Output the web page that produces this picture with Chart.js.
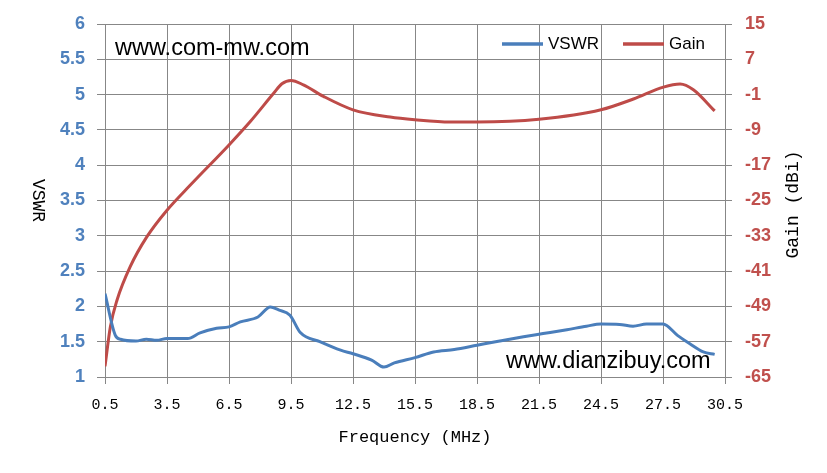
<!DOCTYPE html>
<html>
<head>
<meta charset="utf-8">
<script src="https://cdn.jsdelivr.net/npm/chart.js@4/dist/chart.umd.min.js"></script>
<style>
  body { margin: 0; background: #fff; }
  canvas { display: block; }
</style>
</head>
<body>
<canvas id="chart" width="827" height="473"></canvas>
<script>
// VSWR readings (frequency in MHz)
const vswrFreq = [0.5, 1.0, 1.25, 2.0, 2.5, 3.0, 3.5, 4.5, 5.1, 5.9, 6.5, 7.05, 7.9, 8.5, 8.9, 9.45, 9.95, 10.9, 11.9, 12.5, 13.4, 14.0, 14.5, 15.5, 16.4, 17.4, 18.5, 19.6, 20.75, 21.7, 22.85, 23.8, 24.5, 25.4, 26.05, 26.7, 27.5, 28.2, 28.8, 29.45, 30.0];
const vswrVals = [2.18, 1.59, 1.535, 1.51, 1.535, 1.52, 1.545, 1.545, 1.625, 1.69, 1.71, 1.78, 1.85, 1.99, 1.95, 1.875, 1.63, 1.50, 1.38, 1.33, 1.24, 1.14, 1.2, 1.275, 1.355, 1.39, 1.45, 1.51, 1.57, 1.615, 1.67, 1.72, 1.75, 1.745, 1.72, 1.75, 1.75, 1.59, 1.47, 1.355, 1.32];

// Gain readings (dBi)
const gainFreq = [0.5, 0.76, 1.08, 1.72, 2.53, 3.5, 4.63, 6.5, 7.53, 8.66, 9.06, 9.5, 10.1, 11.07, 12.5, 14.3, 15.5, 17.2, 18.5, 21.5, 24.5, 26.07, 27.52, 28.33, 28.97, 30.0];
const gainVals = [-62.6, -53.6, -47.6, -40.0, -33.2, -27.2, -21.5, -12.4, -7.1, -0.7, 1.45, 2.2, 1.2, -1.4, -4.45, -6.1, -6.7, -7.2, -7.2, -6.6, -4.45, -2.0, 0.7, 1.4, 0.1, -4.7];

const seriesNames = ['VSWR', 'Gain'];
const watermarks = ['www.com-mw.com', 'www.dianzibuy.com'];

const blue = '#4A7EBB';
const red = '#BE4B48';
const gridColor = '#878787';

function pairs(xs, ys) {
  return xs.map((x, i) => ({ x: x, y: ys[i] }));
}

// titles, legend and the two web addresses
const overlay = {
  id: 'overlay',
  afterDraw(chart) {
    const ctx = chart.ctx;
    const area = chart.chartArea;
    const midY = (area.top + area.bottom) / 2;
    ctx.save();
    ctx.fillStyle = '#000';
    ctx.textAlign = 'center';
    ctx.textBaseline = 'middle';
    ctx.font = '18px "Liberation Mono"';

    ctx.save();
    ctx.translate(38, midY);
    ctx.rotate(Math.PI / 2);
    ctx.fillText('VSWR', 0, 0);
    ctx.restore();

    ctx.save();
    ctx.translate(793, midY + 4);
    ctx.rotate(-Math.PI / 2);
    ctx.fillText('Gain (dBi)', 0, 0);
    ctx.restore();

    // legend
    ctx.font = '17px "Liberation Sans"';
    ctx.textAlign = 'left';
    ctx.lineWidth = 3.5;
    const legendX = [502, 623];
    chart.data.datasets.forEach((ds, i) => {
      const x = legendX[i];
      ctx.strokeStyle = ds.borderColor;
      ctx.beginPath();
      ctx.moveTo(x, 44);
      ctx.lineTo(x + 41, 44);
      ctx.stroke();
      ctx.fillText(ds.label, x + 46, 44);
    });

    ctx.font = '23.5px "Liberation Sans"';
    ctx.textBaseline = 'alphabetic';
    ctx.fillText(watermarks[0], 115, 55);
    ctx.fillText(watermarks[1], 506, 368);
    ctx.restore();
  }
};

new Chart(document.getElementById('chart'), {
  type: 'line',
  data: {
    datasets: [{
      label: seriesNames[0],
      data: pairs(vswrFreq, vswrVals),
      yAxisID: 'y',
      borderColor: blue,
      borderWidth: 3,
      pointRadius: 0,
      cubicInterpolationMode: 'monotone'
    }, {
      label: seriesNames[1],
      data: pairs(gainFreq, gainVals),
      yAxisID: 'y1',
      borderColor: red,
      borderWidth: 3,
      pointRadius: 0,
      cubicInterpolationMode: 'monotone'
    }]
  },
  options: {
    responsive: false,
    devicePixelRatio: 1,
    animation: false,
    layout: { padding: { top: 24, left: 0, right: 0, bottom: 0 } },
    plugins: {
      legend: { display: false },
      tooltip: { enabled: false }
    },
    scales: {
      x: {
        type: 'linear',
        min: 0.5,
        max: 30.5,
        afterFit(scale) { scale.height = 96; },
        ticks: {
          stepSize: 3,
          autoSkip: false,
          maxRotation: 0,
          padding: 12,
          color: '#000',
          font: { family: '"Liberation Mono"', size: 15 }
        },
        grid: { color: gridColor, tickLength: 7 },
        border: { color: gridColor }
      ,
        title: {
          display: true,
          text: 'Frequency (MHz)',
          color: '#000',
          font: { family: '"Liberation Mono"', size: 17 },
          padding: { top: 0, bottom: 25 }
        }
      },
      y: {
        position: 'left',
        min: 1,
        max: 6,
        afterFit(scale) { scale.width = 105; },
        ticks: {
          stepSize: 0.5,
          padding: 12,
          color: '#4F81BD',
          font: { family: '"Liberation Sans"', size: 18, weight: 'bold' },
          callback: (v) => String(v)
        },
        grid: { color: gridColor, tickLength: 8 },
        border: { color: gridColor }
      },
      y1: {
        position: 'right',
        min: -65,
        max: 15,
        afterFit(scale) { scale.width = 102; },
        ticks: {
          stepSize: 8,
          padding: 13,
          color: '#C0504D',
          font: { family: '"Liberation Sans"', size: 18, weight: 'bold' },
          callback: (v) => String(v)
        },
        grid: { color: gridColor, drawOnChartArea: false, tickLength: 7 },
        border: { color: gridColor }
      }
    }
  },
  plugins: [overlay]
});
</script>
</body>
</html>
